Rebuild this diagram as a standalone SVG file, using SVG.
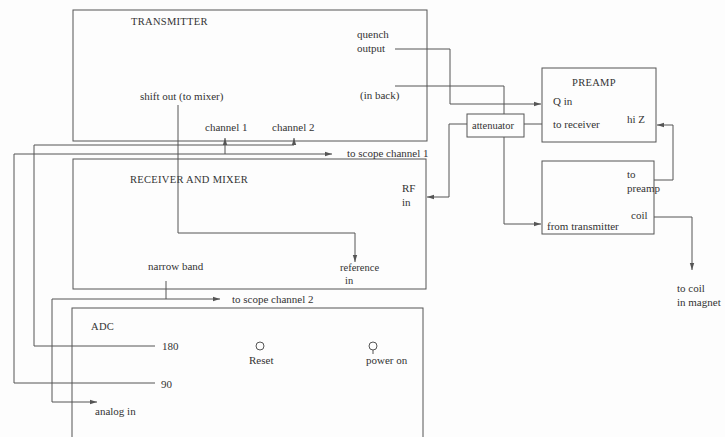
<svg xmlns="http://www.w3.org/2000/svg" width="725" height="437" viewBox="0 0 725 437">
<style>
.box{fill:none;stroke:#555;stroke-width:1}
.ln{fill:none;stroke:#555;stroke-width:1}
.arr{marker-end:url(#ah)}
text{font-family:"Liberation Serif","DejaVu Serif",serif;font-size:11px;fill:#333}
.cap{font-size:10.5px;letter-spacing:0.3px}
</style>
<defs>
<marker id="ah" markerWidth="8" markerHeight="6" refX="7" refY="3" orient="auto" markerUnits="userSpaceOnUse">
<path d="M0,0.8 L7,3 L0,5.2 Z" fill="#555"/>
</marker>
</defs>
<rect width="725" height="437" fill="#fdfdfd"/>
<g id="transmitter">
<rect class="box" x="73" y="10" width="354" height="131"/>
<text class="cap" x="131" y="25">TRANSMITTER</text>
<text x="357" y="38">quench</text>
<text x="357" y="52">output</text>
<text x="140" y="100">shift out (to mixer)</text>
<text x="360" y="99">(in back)</text>
<text x="205" y="131">channel 1</text>
<text x="272" y="131">channel 2</text>
</g>
<g id="receiver">
<rect class="box" x="73" y="159" width="353" height="130"/>
<text class="cap" x="130" y="183">RECEIVER AND MIXER</text>
<text x="402" y="192">RF</text>
<text x="402" y="206">in</text>
<text x="340" y="271" style="font-size:10.5px">reference</text>
<text x="345" y="284" style="font-size:10.5px">in</text>
<text x="148" y="270">narrow band</text>
</g>
<g id="adc">
<rect class="box" x="72" y="308" width="351" height="140"/>
<text class="cap" x="91" y="330">ADC</text>
<text x="162" y="350">180</text>
<text x="161" y="388">90</text>
<text x="95" y="415">analog in</text>
<circle class="box" cx="260" cy="346" r="4"/>
<text x="249" y="364">Reset</text>
<circle class="box" cx="373" cy="346" r="4"/>
<line class="ln" x1="373" y1="350" x2="373" y2="354"/>
<text x="366" y="364">power on</text>
</g>
<g id="preamp">
<rect class="box" x="542" y="68" width="114" height="74"/>
<text class="cap" x="572" y="86">PREAMP</text>
<text x="553" y="105">Q in</text>
<text x="553" y="128">to receiver</text>
<text x="627" y="123">hi Z</text>
</g>
<g id="coupler">
<rect class="box" x="542" y="161" width="112" height="73"/>
<text x="627" y="178">to</text>
<text x="627" y="192">preamp</text>
<text x="631" y="219">coil</text>
<text x="547" y="230">from transmitter</text>
</g>
<g id="attenuator">
<rect class="box" x="467" y="114" width="57" height="23"/>
<text x="472" y="129" style="font-size:10.5px">attenuator</text>
</g>
<g id="connectors">
<path class="ln arr" d="M178,105 V233 H355 V262"/>
<path class="ln arr" d="M155,346 H34 V145 H294 V138"/>
<path class="ln arr" d="M155,383 H14 V154 H332"/>
<path class="ln arr" d="M225,154 V138"/>
<path class="ln arr" d="M395,49 H450 V104 H541"/>
<path class="ln" d="M395,86 H504 V114"/>
<path class="ln arr" d="M467,124 H449 V197 H427"/>
<path class="ln" d="M524,124 H542"/>
<path class="ln arr" d="M504,137 V224 H541"/>
<path class="ln arr" d="M654,180 H673 V125 H657"/>
<path class="ln arr" d="M654,217 H692 V270"/>
<path class="ln" d="M166,281 V299"/>
<path class="ln arr" d="M52,299 H220"/>
<path class="ln arr" d="M52,299 V402 H97"/>
<text x="347" y="157">to scope channel 1</text>
<text x="232" y="303">to scope channel 2</text>
<text x="677" y="292">to coil</text>
<text x="677" y="306">in  magnet</text>
</g>
</svg>
